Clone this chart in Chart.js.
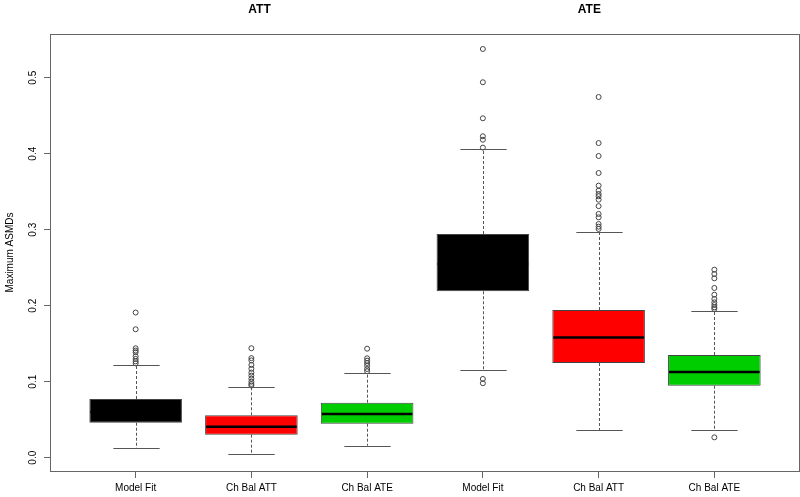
<!DOCTYPE html>
<html>
<head>
<meta charset="utf-8">
<script src="https://cdn.jsdelivr.net/npm/chart.js@4/dist/chart.umd.min.js"></script>
<style>
html,body{margin:0;padding:0;background:#fff;}
#c{display:block;}
</style>
</head>
<body>
<canvas id="c" width="800" height="497"></canvas>
<script>
// ---- Data ----
const categories = ['Model Fit','Ch Bal ATT','Ch Bal ATE','Model Fit','Ch Bal ATT','Ch Bal ATE'];
const groupTitles = ['ATT','ATE'];
const q1 = [0.046, 0.0303, 0.0447, 0.219, 0.1246, 0.0947];
const q3 = [0.0772, 0.0558, 0.0724, 0.2943, 0.1943, 0.1351];
const medians = [0.060, 0.0408, 0.0575, 0.255, 0.158, 0.1128];
const whiskerLow = [0.0124, 0.0045, 0.0158, 0.115, 0.0364, 0.0364];
const whiskerHigh = [0.1224, 0.0926, 0.1118, 0.4062, 0.2974, 0.1934];
const outliers = [
  [0.191, 0.169, 0.144, 0.141, 0.1387, 0.1334, 0.1299, 0.1268, 0.1242],
  [0.144, 0.131, 0.128, 0.122, 0.117, 0.112, 0.108, 0.104, 0.100, 0.097, 0.095],
  [0.1434, 0.1308, 0.1277, 0.1246, 0.121, 0.1167, 0.1137],
  [0.5378, 0.494, 0.4466, 0.4229, 0.4184, 0.408, 0.1036, 0.098],
  [0.4746, 0.414, 0.397, 0.3746, 0.358, 0.3513, 0.347, 0.344, 0.3395, 0.331, 0.3207, 0.3163, 0.3075, 0.304, 0.301],
  [0.2474, 0.2417, 0.236, 0.2233, 0.2145, 0.2088, 0.2044, 0.2009, 0.1979, 0.1957, 0.0268]
];
const yTicks = [0, 0.1, 0.2, 0.3, 0.4, 0.5];
const boxColors = ['#000000','#FF0000','#00CD00','#000000','#FF0000','#00CD00'];

const FONT = '"Liberation Sans", Arial, sans-serif';

const boxPlugin = {
  id: 'boxExtras',
  afterDatasetsDraw(chart) {
    const ctx = chart.ctx;
    const xs = chart.scales.x, ys = chart.scales.y;
    const meta = chart.getDatasetMeta(0);
    ctx.save();
    categories.forEach((_, i) => {
      const bar = meta.data[i];
      const w = bar.width;
      const cx = Math.round(xs.getPixelForValue(i + 1)) + 0.5;
      const yq1 = ys.getPixelForValue(q1[i]);
      const yq3 = ys.getPixelForValue(q3[i]);
      const ylo = ys.getPixelForValue(whiskerLow[i]);
      const yhi = ys.getPixelForValue(whiskerHigh[i]);
      ctx.strokeStyle = '#555';
      ctx.lineWidth = 1;
      ctx.setLineDash([3, 2]);
      ctx.beginPath();
      ctx.moveTo(cx, yq3); ctx.lineTo(cx, yhi);
      ctx.moveTo(cx, yq1); ctx.lineTo(cx, ylo);
      ctx.stroke();
      ctx.setLineDash([]);
      ctx.beginPath();
      ctx.moveTo(cx - w / 4, Math.round(yhi) + 0.5); ctx.lineTo(cx + w / 4, Math.round(yhi) + 0.5);
      ctx.moveTo(cx - w / 4, Math.round(ylo) + 0.5); ctx.lineTo(cx + w / 4, Math.round(ylo) + 0.5);
      ctx.stroke();
      const ym = ys.getPixelForValue(medians[i]);
      ctx.strokeStyle = '#000';
      ctx.lineWidth = 2.5;
      ctx.beginPath();
      ctx.moveTo(bar.x - w / 2 + 1, ym); ctx.lineTo(bar.x + w / 2 - 1, ym);
      ctx.stroke();
    });
    const a = chart.chartArea;
    ctx.strokeStyle = '#666';
    ctx.lineWidth = 1;
    ctx.strokeRect(Math.round(a.left) + 0.5, Math.round(a.top) + 0.5, Math.round(a.right - a.left) - 1, Math.round(a.bottom - a.top));
    ctx.fillStyle = '#000';
    ctx.font = 'bold 12px ' + FONT;
    ctx.textAlign = 'center';
    ctx.textBaseline = 'middle';
    const titlePos = chart.options.plugins.boxExtras.titlePos;
    groupTitles.forEach((t, g) => {
      ctx.fillText(t, xs.getPixelForValue(titlePos[g]), 10);
    });
    ctx.restore();
  }
};

new Chart(document.getElementById('c'), {
  type: 'bar',
  data: {
    datasets: [
      {
        type: 'bar',
        data: categories.map((_, i) => ({ x: i + 1, y: [q1[i], q3[i]] })),
        backgroundColor: boxColors,
        borderColor: '#444',
        borderWidth: 1,
        borderSkipped: false,
        categoryPercentage: 1,
        barPercentage: 0.8,
        order: 2
      },
      {
        type: 'scatter',
        data: outliers.flatMap((arr, i) => arr.map(v => ({ x: i + 1, y: v }))),
        pointRadius: 2.5,
        pointBorderWidth: 1,
        pointBorderColor: '#444',
        pointBackgroundColor: 'rgba(0,0,0,0)',
        showLine: false,
        order: 1
      }
    ]
  },
  options: {
    responsive: false,
    animation: false,
    events: [],
    layout: { autoPadding: false, padding: { top: 34, right: 0, left: 0, bottom: 0 } },
    plugins: {
      legend: { display: false },
      tooltip: { enabled: false },
      boxExtras: { titlePos: [2.07, 4.92] }
    },
    scales: {
      x: {
        type: 'linear',
        offset: false,
        min: 0.26,
        max: 6.74,
        afterBuildTicks: s => { s.ticks = categories.map((_, i) => ({ value: i + 1 })); },
        afterFit: s => { s.height = 26; s.paddingRight = 0; s.paddingLeft = 0; },
        border: { display: false },
        grid: { offset: false, drawOnChartArea: false, drawTicks: true, tickLength: 7, color: '#666' },
        ticks: {
          autoSkip: false, maxRotation: 0, minRotation: 0, padding: 4,
          color: '#000', font: { family: FONT, size: 10 },
          callback: v => categories[Math.round(v) - 1]
        }
      },
      y: {
        type: 'linear',
        min: -0.0175,
        max: 0.5575,
        afterBuildTicks: s => { s.ticks = yTicks.map(v => ({ value: v })); },
        afterFit: s => { s.width = 50; },
        border: { display: false },
        grid: { drawOnChartArea: false, drawTicks: true, tickLength: 6, color: '#666' },
        ticks: {
          minRotation: 90, maxRotation: 90, crossAlign: 'center', padding: 4,
          color: '#000', font: { family: FONT, size: 10 },
          callback: v => Number(v).toFixed(1)
        },
        title: {
          display: true, text: 'Maximum ASMDs', color: '#000',
          font: { family: FONT, size: 10 }, padding: { top: 4, bottom: 0 }
        }
      }
    }
  },
  plugins: [boxPlugin]
});
</script>
</body>
</html>
